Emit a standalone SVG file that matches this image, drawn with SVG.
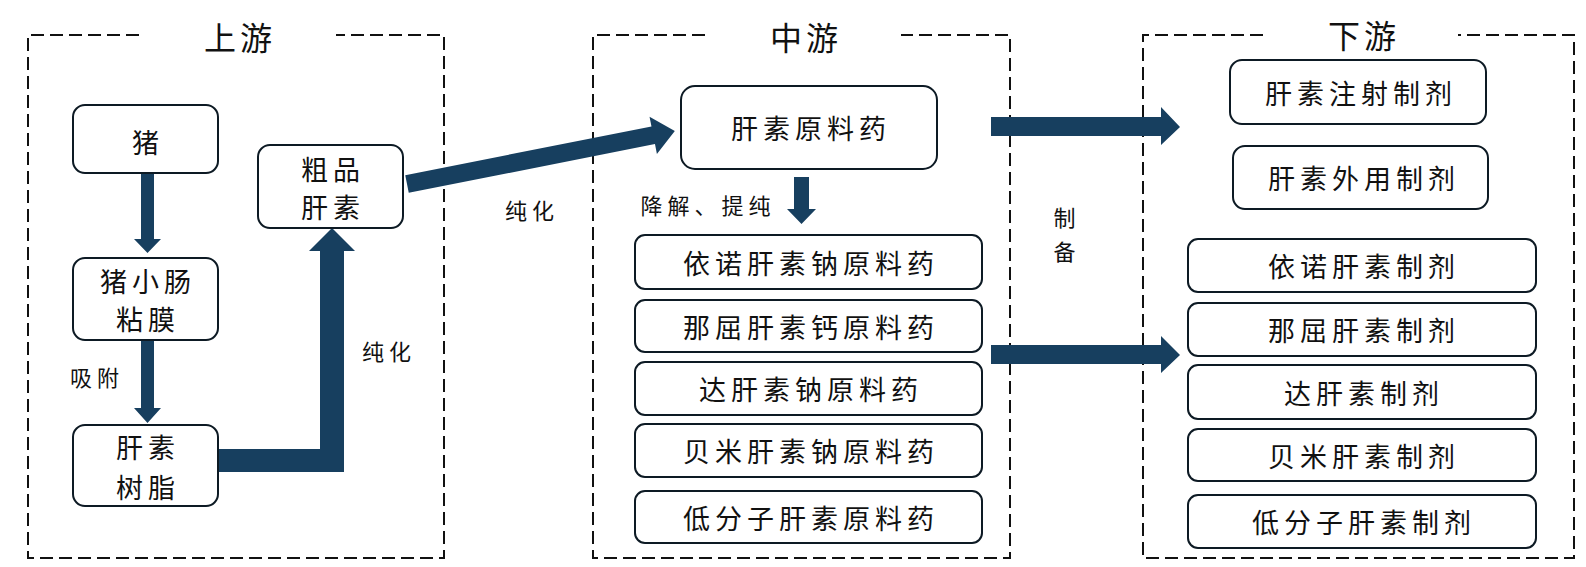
<svg xmlns="http://www.w3.org/2000/svg" width="1586" height="567" viewBox="0 0 1586 567">
<style>
.bg{fill:#ffffff}
.zone{fill:none;stroke:#111;stroke-width:2;stroke-dasharray:13 6}
.node rect{fill:#fff;stroke:#0d1a24;stroke-width:2}
text{font-family:"Noto Sans CJK SC","Noto Sans",sans-serif;fill:#111;dominant-baseline:central;text-anchor:middle}
.t{font-size:27px;letter-spacing:5px}
.title{font-size:32px;letter-spacing:4px}
.lbl{font-size:22px;letter-spacing:5px}
.arrow{fill:#173f5f}
</style>
<rect class="bg" x="0" y="0" width="1586" height="567"/>

<g id="zones">
<path class="zone" d="M139,35 H28 V558 H444 V35 H336"/>
<path class="zone" d="M705,35 H593 V558 H1010 V35 H901"/>
<path class="zone" d="M1263,35 H1143 V558 H1574 V35 H1458"/>
<text class="title" x="240" y="36">上游</text>
<text class="title" x="806" y="36">中游</text>
<text class="title" x="1364" y="34">下游</text>
</g>

<g id="connectors">
<polygon class="arrow" points="141,173 154,173 154,239 161,239 147.5,253 134,239 141,239"/>
<polygon class="arrow" points="141,340 154,340 154,408 161,408 147.5,423 134,408 141,408"/>
<polygon class="arrow" points="218,449 320,449 320,251 309,251 332,228 355,251 344,251 344,472 218,472"/>
<polygon class="arrow" transform="translate(407,184) rotate(-11.19)" points="0,-9 251,-9 251,-19 273,0 251,19 251,9 0,9"/>
<polygon class="arrow" points="794,177 809,177 809,209 816,209 801.5,224 787,209 794,209"/>
<polygon class="arrow" points="991,117 1161,117 1161,107 1180,127 1161,145 1161,136 991,136"/>
<polygon class="arrow" points="991,345 1161,345 1161,336 1180,355 1161,373 1161,364 991,364"/>
<text class="lbl" x="97" y="376">吸附</text>
<text class="lbl" x="389" y="350">纯化</text>
<text class="lbl" x="532" y="209">纯化</text>
<text class="lbl" x="708" y="204">降解、提纯</text>
<text class="lbl" x="1067" y="216">制</text>
<text class="lbl" x="1067" y="250">备</text>
</g>

<g id="n-pig" class="node"><rect x="73" y="105" width="145" height="68" rx="12"/><text class="t" x="148" y="141">猪</text></g>
<g id="n-mucosa" class="node"><rect x="73" y="258" width="145" height="82" rx="12"/><text class="t" x="148" y="280">猪小肠</text><text class="t" x="148" y="318">粘膜</text></g>
<g id="n-resin" class="node"><rect x="73" y="425" width="145" height="81" rx="12"/><text class="t" x="148" y="446">肝素</text><text class="t" x="148" y="486">树脂</text></g>
<g id="n-crude" class="node"><rect x="258" y="145" width="145" height="83" rx="12"/><text class="t" x="333" y="168">粗品</text><text class="t" x="333" y="206">肝素</text></g>

<g id="n-api" class="node"><rect x="681" y="86" width="256" height="83" rx="14"/><text class="t" x="811" y="127">肝素原料药</text></g>
<g id="n-api1" class="node"><rect x="635" y="235" width="347" height="54" rx="10"/><text class="t" x="811" y="262">依诺肝素钠原料药</text></g>
<g id="n-api2" class="node"><rect x="635" y="300" width="347" height="52" rx="10"/><text class="t" x="811" y="326">那屈肝素钙原料药</text></g>
<g id="n-api3" class="node"><rect x="635" y="362" width="347" height="53" rx="10"/><text class="t" x="811" y="388">达肝素钠原料药</text></g>
<g id="n-api4" class="node"><rect x="635" y="424" width="347" height="53" rx="10"/><text class="t" x="811" y="450">贝米肝素钠原料药</text></g>
<g id="n-api5" class="node"><rect x="635" y="491" width="347" height="52" rx="10"/><text class="t" x="811" y="517">低分子肝素原料药</text></g>

<g id="n-inj" class="node"><rect x="1230" y="60" width="256" height="64" rx="12"/><text class="t" x="1361" y="92">肝素注射制剂</text></g>
<g id="n-ext" class="node"><rect x="1233" y="146" width="255" height="63" rx="12"/><text class="t" x="1364" y="177">肝素外用制剂</text></g>
<g id="n-f1" class="node"><rect x="1188" y="239" width="348" height="53" rx="10"/><text class="t" x="1364" y="265">依诺肝素制剂</text></g>
<g id="n-f2" class="node"><rect x="1188" y="303" width="348" height="53" rx="10"/><text class="t" x="1364" y="329">那屈肝素制剂</text></g>
<g id="n-f3" class="node"><rect x="1188" y="365" width="348" height="54" rx="10"/><text class="t" x="1364" y="392">达肝素制剂</text></g>
<g id="n-f4" class="node"><rect x="1188" y="429" width="348" height="52" rx="10"/><text class="t" x="1364" y="455">贝米肝素制剂</text></g>
<g id="n-f5" class="node"><rect x="1188" y="495" width="348" height="53" rx="10"/><text class="t" x="1364" y="521">低分子肝素制剂</text></g>
</svg>
